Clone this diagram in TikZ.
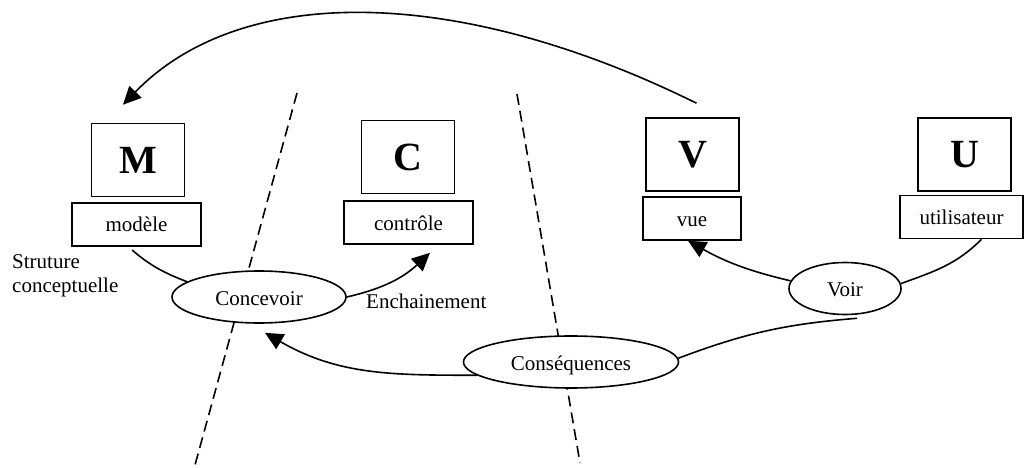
\documentclass[tikz,border=0pt]{standalone}
\usepackage{fontspec}
\setmainfont{Liberation Serif}
\usetikzlibrary{shapes.geometric,arrows.meta}

\begin{document}
\begin{tikzpicture}[x=1pt,y=-1pt]
    \tikzset{
        bigbox/.style={draw, line width=1.6pt, minimum width=93pt, minimum height=73pt, inner sep=0pt, font=\fontsize{40}{40}\selectfont\bfseries},
        namebox/.style={draw, fill=white, line width=1.6pt, minimum height=43pt, inner sep=0pt, text height=15pt, text depth=0pt, font=\fontsize{21}{24}\selectfont},
        bubble/.style={draw, ellipse, fill=white, line width=1.6pt, minimum height=52pt, inner sep=0pt, text height=16pt, text depth=0pt, font=\fontsize{21}{24}\selectfont},
        arc/.style={-, line width=1.6pt},
        flow/.style={-{Triangle[length=18pt,width=17pt]}, line width=1.6pt},
        divider/.style={line width=1.6pt, dash pattern=on 11pt off 6pt}
    }
    \useasboundingbox (0,0) rectangle (1029,468);

    % separations
    \coordinate (d1a) at (297,93);
    \coordinate (d1b) at (195,465);
    \coordinate (d2a) at (517,94);
    \coordinate (d2b) at (580,463);
    \draw[divider] (d1a) -- (d1b);
    \draw[divider] (d2a) -- (d2b);

    \draw node[bigbox] (m) at (138,160) {M};
    \draw node[namebox, minimum width=129pt] (modele) at (136.5,224.5) {modèle};
    \draw node[bigbox] (c) at (408,157) {C};
    \draw node[namebox, minimum width=129pt] (controle) at (408.5,222.5) {contrôle};
    \draw node[bigbox] (v) at (692.5,154.5) {V};
    \draw node[namebox, minimum width=98pt] (vue) at (692,218.5) {vue};
    \draw node[bigbox] (u) at (964.5,154.5) {U};
    \draw node[namebox, minimum width=123pt] (utilisateur) at (961.5,217) {utilisateur};

    \draw node[bubble, minimum width=174pt] (concevoir) at (259,297) {Concevoir};
    \draw node[bubble, minimum width=112pt] (voir) at (845,288.5) {Voir};
    \draw node[bubble, minimum width=215pt] (consequences) at (571,362) {Conséquences};

    \draw node[align=left, anchor=north west, inner sep=0pt, font=\fontsize{21}{24}\selectfont] (structure) at (12,254) {Struture\\conceptuelle};
    \draw node[anchor=base west, inner sep=0pt, font=\fontsize{21}{24}\selectfont] (enchainement) at (366,308) {Enchainement};

    \draw[arc, shorten <=5pt] (modele.-110) to[bend right=10] (concevoir.168);
    \draw[flow] (concevoir.east) to[bend right=15] ([xshift=21.5pt,yshift=-8pt]controle.south);
    \draw[flow] (voir.172) to[bend left=8] ([xshift=-4pt]vue.south);
    \draw[arc] ([xshift=20pt]utilisateur.south) to[out=-135,in=20] (voir.5);
    \draw[flow] (consequences.188) to[out=180,in=-30] ([xshift=6pt,yshift=-9pt]concevoir.south);
    \draw[arc] (consequences.2) to[bend left=8] ([xshift=12pt,yshift=-3pt]voir.south);
    \draw[flow] ([xshift=4pt,yshift=14pt]v.north) .. controls (455,-16) and (240,-16) .. ([xshift=-15pt,yshift=18pt]m.north);
\end{tikzpicture}
\end{document}
